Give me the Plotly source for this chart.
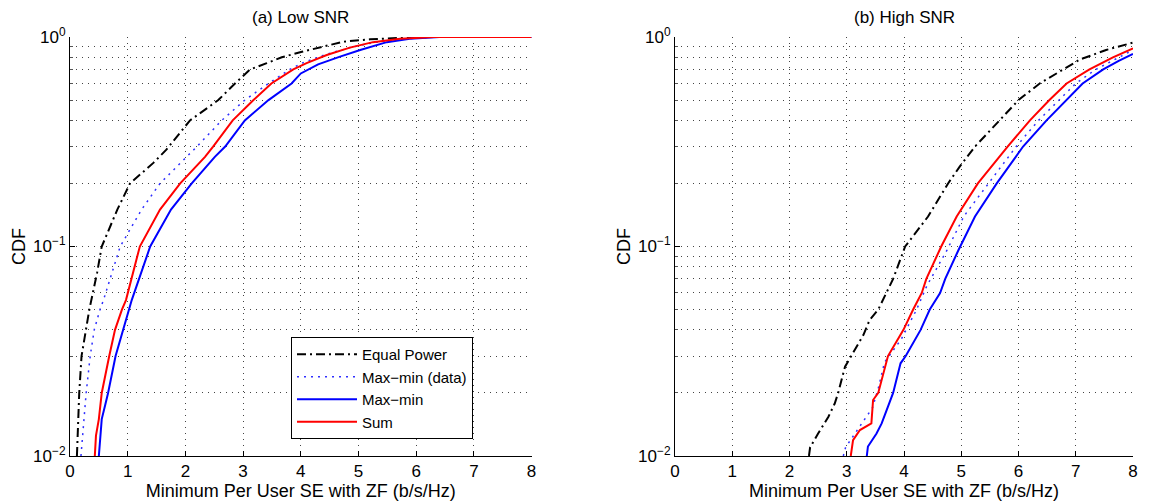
import plotly.graph_objects as go

# (a) Low SNR
low_eq_x = [0.12, 0.16, 0.20, 0.28, 0.335, 0.47, 0.55, 0.82, 1.04, 1.44, 1.67, 2.08, 2.57, 2.86, 3.12, 3.41, 3.67, 4.02, 4.39, 4.74, 5.2, 5.72, 6.1, 8.0]
low_eq_y = [0.01, 0.02, 0.03, 0.04, 0.05, 0.075, 0.10, 0.15, 0.20, 0.25, 0.29, 0.40, 0.50, 0.60, 0.70, 0.75, 0.80, 0.85, 0.90, 0.95, 0.975, 0.99, 1.0, 1.0]

low_data_x = [0.19, 0.28, 0.35, 0.42, 0.52, 0.58, 0.87, 1.24, 1.56, 2.2, 2.63, 3.03, 3.44, 3.81, 4.02, 4.4, 4.85, 5.3, 5.8, 6.35, 8.0]
low_data_y = [0.01, 0.02, 0.03, 0.04, 0.05, 0.0555, 0.10, 0.15, 0.20, 0.30, 0.40, 0.50, 0.60, 0.70, 0.75, 0.82, 0.89, 0.945, 0.98, 1.0, 1.0]

low_mm_x = [0.50, 0.55, 0.61, 0.66, 0.79, 0.92, 1.01, 1.07, 1.39, 1.75, 2.11, 2.51, 2.69, 3.03, 3.44, 3.84, 4.0, 4.3, 4.68, 5.03, 5.49, 5.89, 6.4, 8.0]
low_mm_y = [0.01, 0.015, 0.0175, 0.02, 0.03, 0.04, 0.05, 0.0555, 0.10, 0.15, 0.20, 0.268, 0.30, 0.40, 0.50, 0.60, 0.67, 0.74, 0.806, 0.867, 0.945, 0.98, 1.0, 1.0]

low_sum_x = [0.43, 0.45, 0.50, 0.55, 0.68, 0.78, 0.90, 0.97, 1.21, 1.56, 1.91, 2.34, 2.48, 2.82, 3.18, 3.49, 3.87, 4.1, 4.45, 4.85, 5.25, 5.72, 6.3, 8.0]
low_sum_y = [0.01, 0.0125, 0.015, 0.02, 0.03, 0.04, 0.05, 0.0555, 0.10, 0.15, 0.20, 0.268, 0.30, 0.40, 0.50, 0.60, 0.70, 0.75, 0.82, 0.89, 0.945, 0.98, 1.0, 1.0]

# (b) High SNR
high_eq_x = [2.34, 2.36, 2.50, 2.68, 2.79, 2.85, 2.97, 3.14, 3.29, 3.40, 3.55, 3.81, 4.02, 4.42, 4.77, 4.97, 5.24, 5.67, 6.00, 6.37, 6.78, 7.07, 7.53, 7.88, 8.0]
high_eq_y = [0.010, 0.011, 0.0128, 0.0154, 0.0178, 0.020, 0.0267, 0.032, 0.0378, 0.0446, 0.050, 0.070, 0.10, 0.139, 0.20, 0.24, 0.30, 0.40, 0.50, 0.60, 0.70, 0.78, 0.867, 0.92, 0.94]

high_data_x = [2.94, 2.98, 3.2, 3.45, 3.55, 3.66, 3.95, 4.22, 4.4, 4.75, 5.05, 5.47, 5.96, 6.35, 6.7, 7.0, 7.35, 7.75, 8.0]
high_data_y = [0.01, 0.011, 0.0135, 0.017, 0.021, 0.028, 0.036, 0.05, 0.065, 0.096, 0.14, 0.20, 0.30, 0.40, 0.50, 0.60, 0.70, 0.80, 0.867]

high_mm_x = [3.35, 3.37, 3.52, 3.61, 3.72, 3.81, 3.94, 4.03, 4.29, 4.45, 4.63, 4.72, 4.95, 5.24, 5.62, 6.08, 6.49, 6.84, 7.12, 7.48, 7.75, 8.0]
high_mm_y = [0.01, 0.0111, 0.0128, 0.0143, 0.0172, 0.02, 0.0277, 0.03, 0.04, 0.05, 0.06, 0.07, 0.096, 0.139, 0.20, 0.30, 0.40, 0.50, 0.60, 0.70, 0.77, 0.83]

high_sum_x = [3.07, 3.11, 3.23, 3.43, 3.46, 3.55, 3.72, 3.99, 4.16, 4.31, 4.39, 4.65, 4.92, 5.29, 5.81, 6.2, 6.54, 6.84, 7.24, 7.65, 8.0]
high_sum_y = [0.010, 0.0119, 0.0133, 0.0143, 0.0185, 0.020, 0.030, 0.040, 0.050, 0.060, 0.070, 0.10, 0.139, 0.20, 0.30, 0.40, 0.50, 0.60, 0.70, 0.80, 0.883]

names = ["Equal Power", "Max\u2212min (data)", "Max\u2212min", "Sum"]
x_ticks = [0, 1, 2, 3, 4, 5, 6, 7, 8]
y_major = [0.01, 0.1, 1]
y_major_text = ["10<sup>\u22122</sup>", "10<sup>\u22121</sup>", "10<sup>0</sup>"]
y_minor = [0.02, 0.03, 0.04, 0.05, 0.06, 0.07, 0.08, 0.09, 0.2, 0.3, 0.4, 0.5, 0.6, 0.7, 0.8, 0.9]

styles = [
    dict(color="black", width=2, dash="9px,4px,2px,4px"),
    dict(color="#3030ff", width=1.5, dash="2px,5px"),
    dict(color="#0000ff", width=2),
    dict(color="#ff0000", width=2),
]

FONT = "Liberation Sans, Arial, sans-serif"

fig = go.Figure()

panels = [
    ("x", "y", [(low_eq_x, low_eq_y), (low_data_x, low_data_y), (low_mm_x, low_mm_y), (low_sum_x, low_sum_y)], True),
    ("x2", "y2", [(high_eq_x, high_eq_y), (high_data_x, high_data_y), (high_mm_x, high_mm_y), (high_sum_x, high_sum_y)], False),
]
for xa, ya, series, show in panels:
    for (xs, ys), name, st in zip(series, names, styles):
        fig.add_trace(go.Scatter(x=xs, y=ys, mode="lines", name=name, line=st,
                                 xaxis=xa, yaxis=ya, showlegend=show))

W, H = 1156, 501
xdom1 = [70 / W, 531.6 / W]
xdom2 = [675 / W, 1133 / W]
ydom = [(H - 456) / H, (H - 37) / H]

grid = dict(showgrid=True, gridcolor="#444444", gridwidth=1, griddash="1px,5px")

def xaxis(dom, anchor):
    return dict(domain=dom, anchor=anchor, range=[0, 8], tickvals=x_ticks,
                ticks="inside", ticklen=5, tickcolor="black", showline=True,
                linecolor="black", linewidth=1, mirror=False, zeroline=False,
                automargin=False,
                tickfont=dict(size=17, family=FONT, color="black"),
                title=dict(text="Minimum Per User SE with ZF (b/s/Hz)",
                           font=dict(size=18, family=FONT, color="black"), standoff=2),
                **grid)

def yaxis(anchor):
    return dict(domain=ydom, anchor=anchor, type="log", range=[-2, 0],
                tickvals=y_major, ticktext=y_major_text,
                ticks="inside", ticklen=5, tickcolor="black", showline=True,
                linecolor="black", linewidth=1, mirror=False, zeroline=False,
                automargin=False,
                tickfont=dict(size=17, family=FONT, color="black"),
                title=dict(text="CDF", font=dict(size=18, family=FONT, color="black"), standoff=2),
                minor=dict(tickvals=y_minor, ticks="inside", ticklen=3, tickcolor="#555555",
                           showgrid=True, gridcolor="#444444", griddash="1px,5px", gridwidth=1),
                **grid)

fig.update_layout(
    width=W, height=H,
    margin=dict(l=0, r=0, t=0, b=0),
    paper_bgcolor="white", plot_bgcolor="white",
    font=dict(family=FONT, color="black"),
    xaxis=xaxis(xdom1, "y"), yaxis=yaxis("x"),
    xaxis2=xaxis(xdom2, "y2"), yaxis2=yaxis("x2"),
    legend=dict(x=291 / W, y=(H - 337) / H, xanchor="left", yanchor="top",
                bgcolor="white", bordercolor="black", borderwidth=1,
                font=dict(size=15, family=FONT, color="black"),
                itemwidth=60, tracegroupgap=0),
    annotations=[
        dict(text="(a) Low SNR", x=(xdom1[0] + xdom1[1]) / 2, y=(H - 17) / H,
             xref="paper", yref="paper", xanchor="center", yanchor="middle",
             showarrow=False, font=dict(size=17, family=FONT)),
        dict(text="(b) High SNR", x=(xdom2[0] + xdom2[1]) / 2, y=(H - 17) / H,
             xref="paper", yref="paper", xanchor="center", yanchor="middle",
             showarrow=False, font=dict(size=17, family=FONT)),
    ],
)

fig.write_html("out.html", config={"displayModeBar": False},
               post_script="document.body.style.margin='0';")
